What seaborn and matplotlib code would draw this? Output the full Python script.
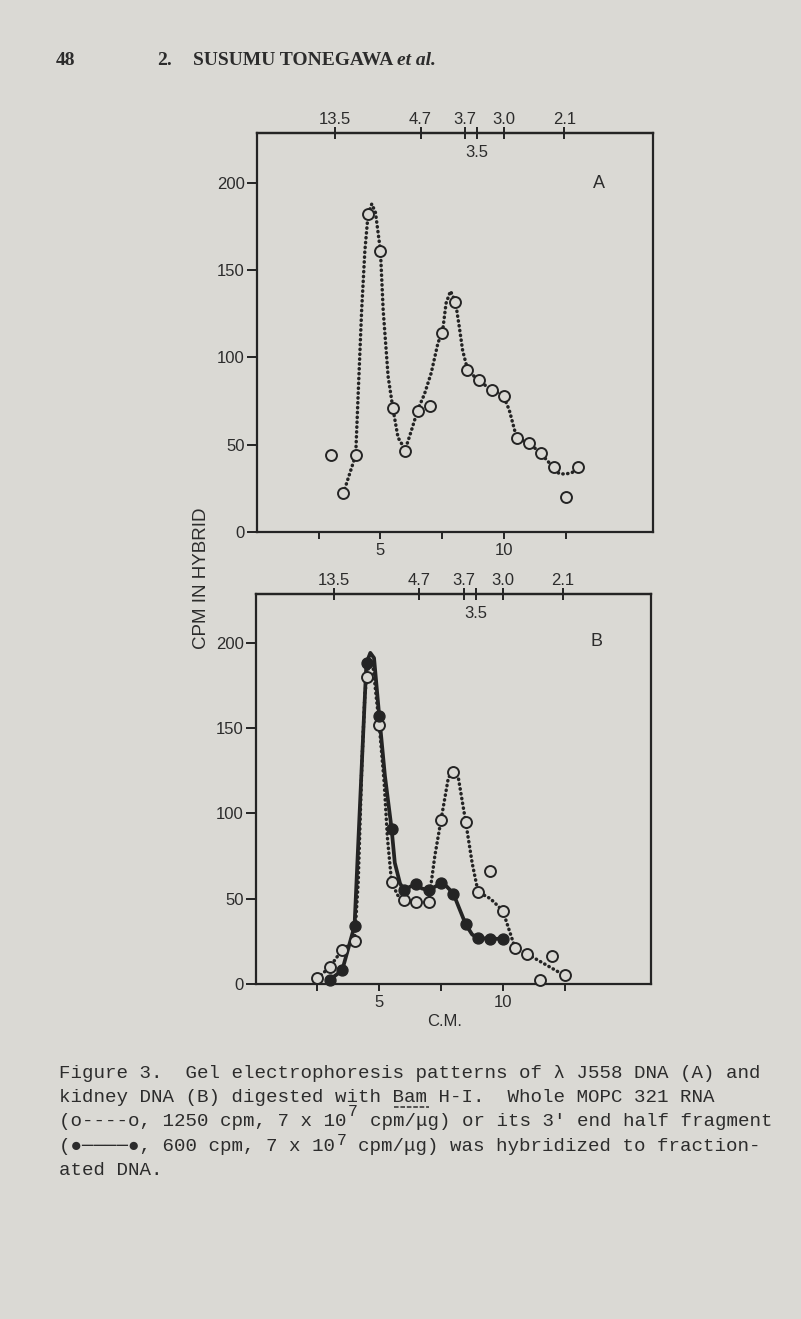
import matplotlib
matplotlib.use("Agg")
import numpy as np
import pandas as pd
import seaborn as sns
import matplotlib.pyplot as plt
from matplotlib.lines import Line2D

# ---------------- data ----------------
# Panel A: lambda J558 DNA, whole MOPC 321 RNA (open circles)
A_CM = [3.0, 3.5, 4.0, 4.5, 5.0, 5.5, 6.0, 6.5, 7.0, 7.5, 8.0, 8.5, 9.0, 9.5,
        10.0, 10.5, 11.0, 11.5, 12.0, 12.5, 13.0]
A_CPM = [44, 22, 44, 182, 161, 71, 46, 69, 72, 114, 132, 93, 87, 81,
         78, 54, 51, 45, 37, 20, 37]
# hand-drawn dotted curve of panel A
A_CURVE_CM = [3.5, 4.0, 4.1, 4.24, 4.37, 4.5, 4.65, 4.8, 5.0, 5.11, 5.31, 5.5,
              5.71, 6.0, 6.25, 6.51, 6.78, 7.05, 7.32, 7.52, 7.65, 7.83, 8.03,
              8.19, 8.32, 8.5, 8.79, 9.0, 9.46, 9.93, 10.2, 10.5, 10.8, 11.0,
              11.47, 11.98, 12.21, 12.47, 12.75, 12.98]
A_CURVE_CPM = [22, 44, 79, 127, 161, 182, 188, 183, 161, 127, 89, 71,
               54, 47, 58, 70, 79, 91, 108, 116, 131, 138, 132,
               117, 104, 94, 89, 87, 81, 79, 70, 54, 52, 51,
               45, 37, 33.4, 33, 34, 37]

# Panel B: kidney DNA
B_OPEN_CM = [2.5, 3.0, 3.5, 4.0, 4.5, 5.0, 5.5, 6.0, 6.5, 7.0, 7.5, 8.0, 8.5,
             9.0, 9.5, 10.0, 10.5, 11.0, 11.5, 12.0, 12.5]
B_OPEN_CPM = [3.3, 9.8, 20, 25, 180, 152, 59.5, 49, 48, 48, 96, 124, 95,
              54, 66, 43, 21, 17.5, 2.3, 16.6, 5]
B_FILLED_CM = [3.0, 3.5, 4.0, 4.5, 5.0, 5.5, 6.0, 6.5, 7.0, 7.5, 8.0, 8.5,
               9.0, 9.5, 10.0]
B_FILLED_CPM = [2.5, 8, 34, 188, 157, 91, 55, 58.5, 55, 59, 53, 35,
                27, 26.5, 26.5]
# dotted curve (whole RNA) of panel B
B_DOT_CM = [2.5, 3.0, 3.5, 4.0, 4.15, 4.3, 4.42, 4.5, 4.62, 4.75, 4.88, 5.0,
            5.2, 5.33, 5.5, 5.75, 6.0, 6.5, 7.0, 7.25, 7.5, 7.8, 8.0, 8.2,
            8.5, 8.76, 9.0, 9.5, 10.0, 10.5, 11.0, 12.5]
B_DOT_CPM = [3.3, 10, 20, 25, 60, 130, 170, 180, 190, 186, 168, 152,
             118, 86, 59.5, 52, 49, 48, 48, 75, 96, 121, 124, 121,
             95, 71, 54, 50, 43, 21, 17.5, 5]
# solid curve (3' end half fragment) of panel B
B_SOLID_CM = [3.0, 3.5, 4.0, 4.48, 4.64, 4.79, 5.0, 5.23, 5.5, 5.63, 5.84, 6.0,
              6.25, 6.5, 6.72, 7.0, 7.26, 7.5, 7.74, 8.0, 8.22, 8.5, 8.76,
              9.0, 9.5, 10.0]
B_SOLID_CPM = [2.5, 8, 34, 188, 194, 191, 157, 122, 91, 71, 59, 55,
               57, 58.5, 56, 55, 57, 59, 57, 53, 45, 35, 29,
               27, 26.5, 26.5]

# axis ticks / labels
Y_TICKS = [0, 50, 100, 150, 200]
X_MAJOR = [5, 10]
X_MINOR = [2.5, 7.5, 12.5]
TOP_POS = [3.15, 6.62, 8.42, 8.9, 10.0, 12.43]
TOP_LABELS = ["13.5", "4.7", "3.7", "3.5", "3.0", "2.1"]

# caption, each line as (start column, text) segments
CAPTION = [
    [(0, "Figure 3.  Gel electrophoresis patterns of \u03bb J558 DNA (A) and")],
    [(0, "kidney DNA (B) digested with Bam H-I.  Whole MOPC 321 RNA")],
    [(0, "(o----o, 1250 cpm, 7 x 10"), (27, "cpm/\u03bcg) or its 3' end half fragment")],
    [(0, "(\u25cf\u2500\u2500\u2500\u2500\u25cf, 600 cpm, 7 x 10"),
     (26, "cpm/\u03bcg) was hybridized to fraction-")],
    [(0, "ated DNA.")],
]
EXPONENT = "7"

# ---------------- style ----------------
BG = "#dad9d4"
INK = "#242424"
TXT = "#2c2c2c"
DOT = (0, (0.1, 1.3))

sns.set_theme(style="ticks")
plt.rcParams["font.family"] = ["Liberation Sans", "DejaVu Sans"]
plt.rcParams["axes.edgecolor"] = INK
plt.rcParams["xtick.color"] = INK
plt.rcParams["ytick.color"] = INK
plt.rcParams["text.color"] = TXT

W, H = 801, 1319
fig = plt.figure(figsize=(W / 100, H / 100), dpi=100, facecolor=BG)


def px_axes(left, top, right, bottom):
    return fig.add_axes([left / W, 1 - bottom / H, (right - left) / W, (bottom - top) / H])


axA = px_axes(256.7, 133.3, 652.7, 531.7)
axB = px_axes(255.7, 594.0, 651.0, 984.0)


def style(ax, letter, lx, ly):
    ax.set_facecolor(BG)
    ax.set_xlim(0, 16)
    ax.set_ylim(0, 228.5)
    for s in ax.spines.values():
        s.set_linewidth(1.6)
        s.set_color(INK)
    ax.set_yticks(Y_TICKS)
    ax.set_yticklabels([str(v) for v in Y_TICKS], fontsize=12, color=TXT)
    ax.set_xticks(X_MAJOR)
    ax.set_xticklabels([str(v) for v in X_MAJOR], fontsize=12, color=TXT)
    ax.set_xticks(X_MINOR, minor=True)
    ax.tick_params(axis="y", direction="out", length=7.5, width=1.4, pad=1)
    ax.tick_params(axis="x", which="both", direction="out", length=5, width=1.4, pad=3)
    ax.set_xlabel("")
    ax.set_ylabel("")
    sec = ax.secondary_xaxis("top")
    sec.set_xticks(TOP_POS)
    sec.set_xticklabels([t if t != "3.5" else "" for t in TOP_LABELS], fontsize=12, color=TXT)
    sec.tick_params(axis="x", direction="inout", length=8, width=1.4, pad=0.5)
    sec.spines["top"].set_linewidth(1.6)
    i = TOP_LABELS.index("3.5")
    ax.text(TOP_POS[i], 0.951, TOP_LABELS[i], transform=ax.get_xaxis_transform(),
            ha="center", va="center", fontsize=12, color=TXT)
    ax.text(lx, ly, letter, transform=ax.transAxes, ha="center", va="center",
            fontsize=13, color=TXT)


# ---- panel A ----
sns.lineplot(x=A_CURVE_CM, y=A_CURVE_CPM, ax=axA, estimator=None, sort=False,
             color=INK, lw=2.5, linestyle=DOT, dash_capstyle="round")
sns.scatterplot(x=A_CM, y=A_CPM, ax=axA, marker="o", s=62, color=BG,
                edgecolor=INK, linewidth=1.4, zorder=4, clip_on=False)
style(axA, "A", 0.865, 0.873)

# ---- panel B ----
sns.lineplot(x=B_DOT_CM, y=B_DOT_CPM, ax=axB, estimator=None, sort=False,
             color=INK, lw=2.5, linestyle=DOT, dash_capstyle="round")
sns.lineplot(x=B_SOLID_CM, y=B_SOLID_CPM, ax=axB, estimator=None, sort=False,
             color=INK, lw=2.7, solid_joinstyle="round")
sns.scatterplot(x=B_OPEN_CM, y=B_OPEN_CPM, ax=axB, marker="o", s=62, color=BG,
                edgecolor=INK, linewidth=1.4, zorder=4, clip_on=False)
sns.scatterplot(x=B_FILLED_CM, y=B_FILLED_CPM, ax=axB, marker="o", s=62, color=INK,
                edgecolor=INK, linewidth=1.0, zorder=5, clip_on=False)
style(axB, "B", 0.8626, 0.878)

# axis labels
fig.text(201 / W, 1 - 578 / H, "CPM IN HYBRID", rotation=90, ha="center",
         va="center", fontsize=13.5, color=TXT)
fig.text(445 / W, 1 - 1021 / H, "C.M.", ha="center", va="center", fontsize=12, color=TXT)

# running header
serif = ["Liberation Serif", "DejaVu Serif"]
hy = 1 - 65 / H
fig.text(56 / W, hy, "48", fontsize=14, fontweight="bold", family=serif, va="baseline", color=TXT)
fig.text(157 / W, hy, "2.", fontsize=14, fontweight="bold", family=serif, va="baseline", color=TXT)
fig.text(193 / W, hy, "SUSUMU TONEGAWA", fontsize=14, fontweight="bold", family=serif,
         va="baseline", color=TXT)
fig.text(397 / W, hy, "et al.", fontsize=14, fontweight="bold", style="italic",
         family=serif, va="baseline", color=TXT)

# caption (typewriter)
mono = ["Liberation Mono", "DejaVu Sans Mono"]
x0 = 59.3
cw = 11.5
base0 = 1077.7
step = 24.3
for k, segs in enumerate(CAPTION):
    for col, seg in segs:
        fig.text((x0 + col * cw) / W, 1 - (base0 + k * step) / H, seg, fontsize=13.8,
                 family=mono, va="baseline", ha="left", color=TXT)
# exponents typed between the lines
fig.text(348 / W, 1 - 1116 / H, EXPONENT, fontsize=12, family=mono, va="baseline", color=TXT)
fig.text(337 / W, 1 - 1145 / H, EXPONENT, fontsize=12, family=mono, va="baseline", color=TXT)
# underline of "Bam"
fig.add_artist(Line2D([394 / W, 429 / W], [1 - 1106.5 / H] * 2, lw=1.1, color=TXT,
                      linestyle=(0, (3, 1.2))))

fig.savefig("out.png", dpi=100, facecolor=BG)
